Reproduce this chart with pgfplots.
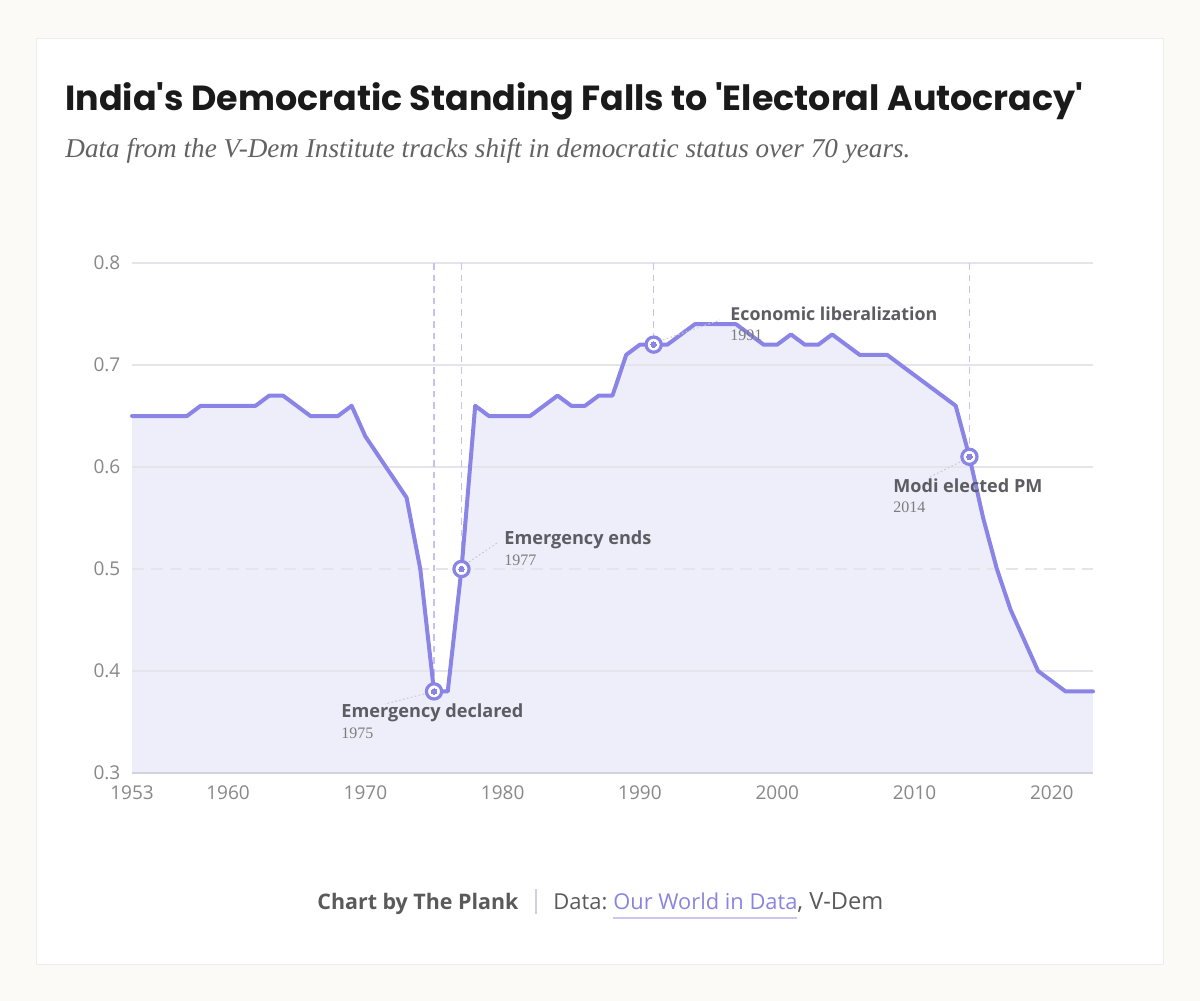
\documentclass[border=0pt]{standalone}
\usepackage{pgfplots}
\pgfplotsset{compat=1.18}
\usepackage{fontspec}
\setmainfont{Open Sans}
\newfontfamily\titlefont[Ligatures=TeXOff]{Poppins}
\newfontfamily\serif{Liberation Serif}
\definecolor{bgc}{HTML}{FBFAF7}
\definecolor{cardb}{HTML}{ECECEE}
\definecolor{linec}{HTML}{8A84E6}
\definecolor{fillc}{HTML}{EEEEFB}
\definecolor{vdash}{HTML}{C6C1F0}
\definecolor{gridc}{HTML}{E4E4EA}
\definecolor{axisc}{HTML}{D2D2DA}
\definecolor{tickc}{HTML}{888888}
\definecolor{annc}{HTML}{5C5C62}
\definecolor{yearc}{HTML}{7C7C7C}
\definecolor{titlec}{HTML}{1A1A1A}
\definecolor{subc}{HTML}{626262}
\definecolor{footc}{HTML}{5A5A5A}
\definecolor{linkc}{HTML}{8A84E0}
\definecolor{linku}{HTML}{CAC6F2}
\definecolor{leadc}{HTML}{C8C8D0}

\pgfplotstableread{
year val
1953 0.65
1954 0.65
1955 0.65
1956 0.65
1957 0.65
1958 0.66
1959 0.66
1960 0.66
1961 0.66
1962 0.66
1963 0.67
1964 0.67
1965 0.66
1966 0.65
1967 0.65
1968 0.65
1969 0.66
1970 0.63
1971 0.61
1972 0.59
1973 0.57
1974 0.50
1975 0.38
1976 0.38
1977 0.50
1978 0.66
1979 0.65
1980 0.65
1981 0.65
1982 0.65
1983 0.66
1984 0.67
1985 0.66
1986 0.66
1987 0.67
1988 0.67
1989 0.71
1990 0.72
1991 0.72
1992 0.72
1993 0.73
1994 0.74
1995 0.74
1996 0.74
1997 0.74
1998 0.73
1999 0.72
2000 0.72
2001 0.73
2002 0.72
2003 0.72
2004 0.73
2005 0.72
2006 0.71
2007 0.71
2008 0.71
2009 0.70
2010 0.69
2011 0.68
2012 0.67
2013 0.66
2014 0.61
2015 0.55
2016 0.50
2017 0.46
2018 0.43
2019 0.40
2020 0.39
2021 0.38
2022 0.38
2023 0.38
}\vdem

\pgfplotstableread{
year val
1975 0.38
1977 0.50
1991 0.72
2014 0.61
}\events

\begin{document}
\begin{tikzpicture}
\begin{scope}[x=0.5pt,y=-0.5pt]
\path[use as bounding box, fill=bgc] (0,0) rectangle (1200,1001);
\draw[cardb, fill=white, line width=0.8pt] (36.5,38.5) rectangle (1163.5,964.5);
\node[anchor=base west, inner sep=0, text=titlec] at (65,111)
  {\resizebox{509pt}{!}{\titlefont\bfseries India's Democratic Standing Falls to 'Electoral Autocracy'}};
\node[anchor=base west, inner sep=0, text=subc] at (65,157)
  {\resizebox{422.5pt}{!}{\serif\itshape Data from the V-Dem Institute tracks shift in democratic status over 70 years.}};
\end{scope}

\begin{axis}[
  at={(66pt,-386.5pt)}, anchor=south west,
  scale only axis, width=480.5pt, height=255pt,
  xmin=1953, xmax=2023, ymin=0.3, ymax=0.8,
  enlargelimits=false,
  axis line style={draw=none},
  major tick length=0pt,
  xtick={1953,1960,1970,1980,1990,2000,2010,2020},
  ytick={0.3,0.4,0.5,0.6,0.7,0.8},
  /pgf/number format/assume math mode=true,
  xticklabel style={font=\fontsize{9.5}{11}\selectfont, text=tickc, yshift=-3pt,
     /pgf/number format/set thousands separator={}},
  yticklabel style={font=\fontsize{9.5}{11}\selectfont, text=tickc, xshift=-2.3pt,
     /pgf/number format/fixed, /pgf/number format/precision=1, /pgf/number format/fixed zerofill},
  clip=false,
]
\addplot[draw=none, fill=fillc] table[x=year,y=val] {\vdem} -- (axis cs:2023,0.3) -- (axis cs:1953,0.3) -- cycle;
% horizontal grid lines
\addplot[gridc, line width=0.6pt] coordinates {(1953,0.4) (2023,0.4)};
\addplot[gridc, line width=0.6pt, dash pattern=on 6pt off 3.5pt] coordinates {(1953,0.5) (2023,0.5)};
\addplot[gridc, line width=0.6pt] coordinates {(1953,0.6) (2023,0.6)};
\addplot[gridc, line width=0.6pt] coordinates {(1953,0.7) (2023,0.7)};
\addplot[gridc, line width=0.6pt] coordinates {(1953,0.8) (2023,0.8)};
\addplot[axisc, line width=0.8pt] coordinates {(1953,0.3) (2023,0.3)};
% vertical dashed event lines
\addplot[vdash, line width=0.7pt, dash pattern=on 3.3pt off 2.5pt] coordinates {(1975,0.8) (1975,0.38)};
\addplot[vdash, line width=0.7pt, dash pattern=on 3.3pt off 2.5pt] coordinates {(1977,0.8) (1977,0.50)};
\addplot[vdash, line width=0.7pt, dash pattern=on 3.3pt off 2.5pt] coordinates {(1991,0.8) (1991,0.72)};
\addplot[vdash, line width=0.7pt, dash pattern=on 3.3pt off 2.5pt] coordinates {(2014,0.8) (2014,0.61)};
\addplot[linec, line width=2pt, line join=round, line cap=round] table[x=year,y=val] {\vdem};
\addplot[linec, only marks, mark=*, mark size=3.8pt, mark options={draw=linec, fill=white, line width=1.6pt, solid}] table[x=year,y=val] {\events};
\addplot[linec, only marks, mark=*, mark size=1.4pt, mark options={draw=linec, fill=linec, line width=0pt, solid}] table[x=year,y=val] {\events};
\end{axis}

\begin{scope}[x=0.5pt,y=-0.5pt]
% leader lines
\draw[leadc, line width=0.5pt, dash pattern=on 0.8pt off 1.2pt] (424,694) -- (385,704);
\draw[leadc, line width=0.5pt, dash pattern=on 0.8pt off 1.2pt] (469,562) -- (497,543);
\draw[leadc, line width=0.5pt, dash pattern=on 0.8pt off 1.2pt] (663,340) -- (720,320);
\draw[leadc, line width=0.5pt, dash pattern=on 0.8pt off 1.2pt] (960,462) -- (930,477);
% annotations
\node[anchor=base west, inner sep=0, text=annc] at (341,717) {\resizebox{91pt}{!}{\bfseries Emergency declared}};
\node[anchor=base west, inner sep=0, text=yearc] at (341,738) {\serif\fontsize{8}{9}\selectfont 1975};
\node[anchor=base west, inner sep=0, text=annc] at (504,544) {\resizebox{73.5pt}{!}{\bfseries Emergency ends}};
\node[anchor=base west, inner sep=0, text=yearc] at (504,565) {\serif\fontsize{8}{9}\selectfont 1977};
\node[anchor=base west, inner sep=0, text=annc] at (730,320) {\resizebox{103.5pt}{!}{\bfseries Economic liberalization}};
\node[anchor=base west, inner sep=0, text=yearc] at (730,340) {\serif\fontsize{8}{9}\selectfont 1991};
\node[anchor=base west, inner sep=0, text=annc] at (893,492) {\resizebox{74.5pt}{!}{\bfseries Modi elected PM}};
\node[anchor=base west, inner sep=0, text=yearc] at (893,512) {\serif\fontsize{8}{9}\selectfont 2014};
% footer
\node[anchor=base west, inner sep=0, text=footc] at (317,909) {\resizebox{100.5pt}{!}{\bfseries Chart by The Plank}};
\draw[axisc, line width=0.8pt] (536,889) -- (536,914);
\node[anchor=base west, inner sep=0, text=footc] at (553,909) {\resizebox{27pt}{!}{Data:}};
\node[anchor=base west, inner sep=0, text=linkc] at (613,909) {\resizebox{92pt}{!}{Our World in Data}};
\draw[linku, line width=0.8pt] (613,918) -- (797,918);
\node[anchor=base west, inner sep=0, text=footc] at (797,909) {\resizebox{43pt}{!}{, V-Dem}};
\end{scope}
\end{tikzpicture}
\end{document}
